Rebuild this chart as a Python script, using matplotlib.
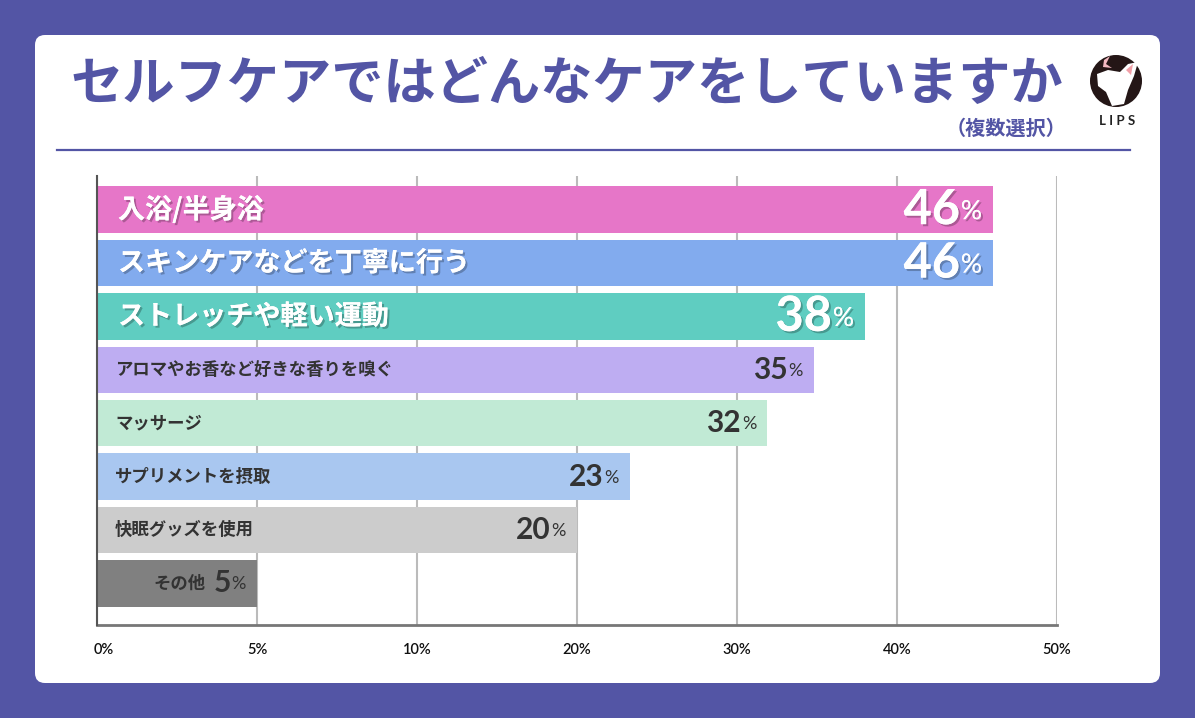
import numpy as np
import matplotlib
matplotlib.use("Agg")
import matplotlib.pyplot as plt
import matplotlib.patheffects as pe
from matplotlib.patches import FancyBboxPatch, Circle, Polygon
from matplotlib.transforms import ScaledTranslation

# data
categories = ["入浴/半身浴", "スキンケアなどを丁寧に行う", "ストレッチや軽い運動",
              "アロマやお香など好きな香りを嗅ぐ", "マッサージ", "サプリメントを摂取",
              "快眠グッズを使用", "その他"]
values = [46.0, 46.0, 38.0, 34.8, 31.9, 23.3, 20.0, 5.0]
value_labels = ["46", "46", "38", "35", "32", "23", "20", "5"]
bar_colors = ["#E676C8", "#82ABEE", "#5FCDC1", "#BEADF2", "#C1EAD5", "#A9C7F0",
              "#CCCCCC", "#808080"]
tick_values = [0, 5, 10, 20, 30, 40, 50]

TITLE = "セルフケアではどんなケアをしていますか"
SUBTITLE = "（複数選択）"
PURPLE = "#5355A5"
DARK = "#333333"
JP = ["Noto Sans CJK JP", "DejaVu Sans"]
NUM = ["Lato", "DejaVu Sans"]

W, H = 1195, 718
fig = plt.figure(figsize=(W / 100, H / 100), dpi=100, facecolor=PURPLE)

# background layer in pixel units
bg = fig.add_axes([0, 0, 1, 1])
bg.set_xlim(0, W)
bg.set_ylim(H, 0)
bg.axis("off")
bg.add_patch(FancyBboxPatch((35, 35), 1125, 648, boxstyle="round,pad=0,rounding_size=10",
                            fc="white", ec="none"))
bg.text(70, 84, TITLE, family=JP, fontsize=37.6, fontweight="bold", color=PURPLE,
        ha="left", va="center")
bg.text(1066, 128, SUBTITLE, family=JP, fontsize=14.5, fontweight="bold", color=PURPLE,
        ha="right", va="center")
bg.plot([57, 1130], [150, 150], color=PURPLE, lw=1.6)

# logo
bg.add_patch(Circle((1116, 81), 26, fc="#241616", ec="none"))
bg.add_patch(Polygon([(1097, 74), (1108, 70), (1120, 72), (1128, 64), (1138, 62),
                      (1134, 76), (1128, 90), (1124, 104), (1112, 106), (1106, 92),
                      (1098, 86)], closed=True, fc="white", ec="none"))
bg.add_patch(Polygon([(1126, 70), (1133, 64), (1131, 75)], closed=True,
                     fc="#F2A0A8", ec="none"))
bg.add_patch(Polygon([(1104, 60), (1110, 56), (1106, 64), (1112, 68), (1103, 67)],
                     closed=True, fc="#F2B8C0", ec="none"))
bg.text(1117, 121, "L I P S", family=NUM, fontsize=9.5, fontweight="bold",
        color="#222222", ha="center", va="center")

# main chart
ax = fig.add_axes([97 / W, (H - 625) / H, 960 / W, (625 - 176) / H])
ax.set_facecolor("none")


def fwd(x):
    x = np.asarray(x, dtype=float)
    return np.where(x <= 10, 2 * x, x + 10)


def inv(t):
    t = np.asarray(t, dtype=float)
    return np.where(t <= 20, t / 2, t - 10)


ax.set_xscale("function", functions=(fwd, inv))
ax.set_xlim(0, 50)
y = np.arange(len(categories))
ax.set_ylim(7.78, -0.63)
ax.barh(y, values, height=0.87, color=bar_colors, zorder=2)

ax.set_xticks(tick_values)
ax.set_xticklabels([f"{v}%" for v in tick_values], family=NUM, fontsize=10.5,
                   fontweight="semibold", color="#111111")
ax.tick_params(axis="x", length=0, pad=13)
first = ax.get_xticklabels()[0]
first.set_transform(first.get_transform() + ScaledTranslation(7 / 100, 0, fig.dpi_scale_trans))
ax.set_yticks([])
ax.grid(axis="x", color="#BBBBBB", lw=1.5, zorder=0)
for s in ["top", "right"]:
    ax.spines[s].set_visible(False)
ax.spines["left"].set_color("#555555")
ax.spines["left"].set_linewidth(1.5)
ax.spines["bottom"].set_color("#777777")
ax.spines["bottom"].set_linewidth(2)
ax.spines["left"].set_zorder(3)

shadow = [pe.withSimplePatchShadow(offset=(1.5, -1.5), shadow_rgbFace="#000000", alpha=0.25),
          pe.Normal()]

fig.canvas.draw()
renderer = fig.canvas.get_renderer()

for i, (cat, v, lab) in enumerate(zip(categories, values, value_labels)):
    if i < 3:
        tc, csize, dsize, psize, fx = "white", 19.5, 35, 19, shadow
    else:
        tc, csize, dsize, psize, fx = DARK, 12.5, 21.5, 13, None
    pct = ax.annotate("%", (v, i), xytext=(-11, -2 if i < 3 else -1),
                      textcoords="offset pixels", ha="right", va="center",
                      family=NUM, fontsize=psize, color=tc, path_effects=fx)
    pw = pct.get_window_extent(renderer).width
    dig = ax.annotate(lab, (v, i), xytext=(-11 - pw - 1, 0), textcoords="offset pixels",
                      ha="right", va="center", family=NUM, fontsize=dsize,
                      fontweight="bold", color=tc, path_effects=fx)
    if i < 7:
        ax.annotate(cat, (0, i), xytext=(21 if i < 3 else 18, 0), textcoords="offset pixels",
                    ha="left", va="center", family=JP, fontsize=csize,
                    fontweight="bold", color=tc, path_effects=fx)
    else:
        dw = dig.get_window_extent(renderer).width
        ax.annotate(cat, (v, i), xytext=(-11 - pw - 1 - dw - 8, 0),
                    textcoords="offset pixels", ha="right", va="center", family=JP,
                    fontsize=csize, fontweight="bold", color=DARK)

fig.savefig("out.png", dpi=100, facecolor=PURPLE)
